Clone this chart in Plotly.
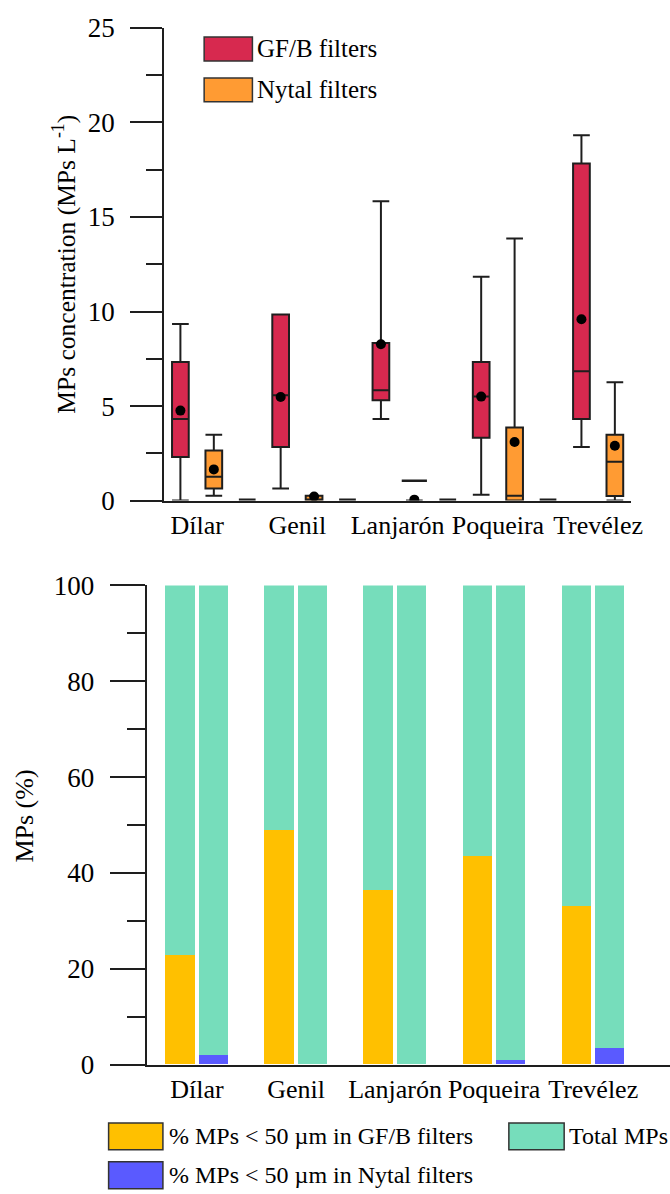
import plotly.graph_objects as go

# ---------------- data ----------------
categories = ["Dílar", "Genil", "Lanjarón", "Poqueira", "Trevélez"]

# Top panel: box statistics, MPs concentration (MPs L-1)
gfb_lower = [0.0, 0.64, 4.32, 0.31, 2.83]
gfb_q1 = [2.31, 2.83, 5.31, 3.32, 4.32]
gfb_median = [4.32, 5.57, 5.84, 5.50, 6.84]
gfb_q3 = [7.33, 9.85, 8.34, 7.33, 17.83]
gfb_upper = [9.34, 9.85, 15.84, 11.84, 19.32]
gfb_mean = [4.76, 5.48, 8.27, 5.50, 9.59]

nyt_lower = [0.25, 0.0, 0.0, 0.0, 0.0]
nyt_q1 = [0.64, 0.0, 0.0, 0.0, 0.24]
nyt_median = [1.26, 0.0, 0.0, 0.25, 2.05]
nyt_q3 = [2.65, 0.25, 0.0, 3.87, 3.48]
nyt_upper = [3.48, 0.25, 0.0, 13.87, 6.26]
nyt_mean = [1.65, 0.22, 0.05, 3.10, 2.90]
nyt_outlier = [None, None, 1.05, None, None]

empty_series = [0.0, 0.0, 0.0, 0.0]  # zero-valued boxes drawn between groups

# Bottom panel: percentages
gfb_small_pct = [22.7, 48.9, 36.4, 43.5, 33.1]
nyt_small_pct = [1.85, 0.0, 0.0, 0.8, 3.3]
total_pct = [100, 100, 100, 100, 100]

# ---------------- styling ----------------
S = 0.977          # rendering scale of the page
OFF_Y = 15         # vertical offset of the page in the picture
FW, FH = 686, 1207
FONT = "Liberation Serif"
AX = "#1e1e1e"
RED = "#D7294F"
ORANGE = "#FF9B33"
YELLOW = "#FFC000"
TEAL = "#76DDBB"
BLUE = "#5A5AFF"

def px(x):
    """picture x (px) -> paper fraction"""
    return (x / S) / FW

def py(y):
    """picture y (px) -> paper fraction"""
    return 1 - ((y - OFF_Y) / S) / FH

def ln(v):
    return v / S

idx = list(range(len(categories)))
box_off = 1 / 6
gf_x = [i - box_off for i in idx]
ny_x = [i + box_off for i in idx]
empty_x = [i + 0.5 for i in range(len(empty_series))]

bar_off = 0.1675
bar_w = 0.294
gfb_bar_x = [i - bar_off for i in idx]
nyt_bar_x = [i + bar_off for i in idx]

fig = go.Figure()

# ---- top: boxes ----
box_common = dict(whiskerwidth=1, boxpoints=False,
                  width=1 / 6, showlegend=False, hoverinfo="skip",
                  xaxis="x", yaxis="y")
fig.add_trace(go.Box(x=gf_x, q1=gfb_q1, median=gfb_median, q3=gfb_q3,
                     lowerfence=gfb_lower, upperfence=gfb_upper,
                     line=dict(color=AX, width=2),
                     fillcolor=RED, name="GF/B filters", **box_common))
fig.add_trace(go.Box(x=ny_x, q1=nyt_q1, median=nyt_median, q3=nyt_q3,
                     lowerfence=nyt_lower, upperfence=nyt_upper,
                     line=dict(color=AX, width=2),
                     fillcolor=ORANGE, name="Nytal filters", **box_common))
fig.add_trace(go.Box(x=empty_x, q1=empty_series, median=empty_series, q3=empty_series,
                     lowerfence=empty_series, upperfence=empty_series,
                     line=dict(color=AX, width=4),
                     fillcolor=AX, name="empty", **box_common))

# outlier dash
ox = [ny_x[i] for i, v in enumerate(nyt_outlier) if v is not None]
oy = [v for v in nyt_outlier if v is not None]
fig.add_trace(go.Scatter(x=ox, y=oy, mode="markers", xaxis="x", yaxis="y",
                         marker=dict(symbol="line-ew", size=18,
                                     line=dict(color=AX, width=2.5)),
                         showlegend=False, hoverinfo="skip"))
# means
fig.add_trace(go.Scatter(x=gf_x + ny_x, y=gfb_mean + nyt_mean, mode="markers",
                         xaxis="x", yaxis="y",
                         marker=dict(color="black", size=10),
                         showlegend=False, hoverinfo="skip"))

# ---- bottom: bars ----
bar_common = dict(xaxis="x2", yaxis="y2", width=bar_w, marker_line_width=0,
                  showlegend=False, hoverinfo="skip")
fig.add_trace(go.Bar(x=gfb_bar_x, y=total_pct, marker_color=TEAL, **bar_common))
fig.add_trace(go.Bar(x=nyt_bar_x, y=total_pct, marker_color=TEAL, **bar_common))
fig.add_trace(go.Bar(x=gfb_bar_x, y=gfb_small_pct, marker_color=YELLOW, **bar_common))
fig.add_trace(go.Bar(x=nyt_bar_x, y=nyt_small_pct, marker_color=BLUE, **bar_common))

tickfont_y = dict(family=FONT, size=27, color="black")
tickfont_x = dict(family=FONT, size=26, color="black")

# top axes (picture coordinates)
top_x0, top_x1 = 163, 627
top_y0, top_y1 = 28, 501.5
top_center0 = 196
top_step = 99.7
fig.update_layout(
    xaxis=dict(domain=[px(top_x0), px(top_x1)],
               range=[-(top_center0 - top_x0) / top_step, (top_x1 - top_center0) / top_step],
               tickmode="array", tickvals=idx, ticktext=categories,
               showline=True, linecolor=AX, linewidth=2, ticks="",
               showgrid=False, zeroline=False, tickfont=tickfont_x, anchor="y"),
    yaxis=dict(domain=[py(top_y1), py(top_y0)], range=[0, 25],
               tickmode="linear", tick0=0, dtick=5,
               showline=True, linecolor=AX, linewidth=2,
               ticks="outside", ticklen=ln(31), tickwidth=2, tickcolor=AX,
               ticklabelstandoff=10,
               minor=dict(dtick=2.5, tick0=0, ticks="outside", ticklen=ln(16),
                          tickwidth=2, tickcolor=AX, showgrid=False),
               showgrid=False, zeroline=False, tickfont=tickfont_y, anchor="x"),
)

# bottom axes (picture coordinates)
bot_x0, bot_x1 = 146.6, 670
bot_y0, bot_y1 = 586.5, 1066.5
bot_center0 = 195.85
bot_step = 98.5
fig.update_layout(
    xaxis2=dict(domain=[px(bot_x0), min(1.0, px(bot_x1))],
                range=[-(bot_center0 - bot_x0) / bot_step, (bot_x1 - bot_center0) / bot_step],
                tickmode="array", tickvals=idx, ticktext=categories,
                showline=True, linecolor=AX, linewidth=2, ticks="",
                showgrid=False, zeroline=False, tickfont=tickfont_x, anchor="y2"),
    yaxis2=dict(domain=[py(bot_y1), py(bot_y0)], range=[0, 100],
                tickmode="linear", tick0=0, dtick=20,
                showline=True, linecolor=AX, linewidth=2,
                ticks="outside", ticklen=ln(35), tickwidth=2, tickcolor=AX,
                ticklabelstandoff=10,
                minor=dict(dtick=10, tick0=0, ticks="outside", ticklen=ln(18),
                           tickwidth=2, tickcolor=AX, showgrid=False),
                showgrid=False, zeroline=False, tickfont=tickfont_y, anchor="x2"),
)

# ---- axis titles ----
annotations = [
    dict(text="MPs concentration (MPs L<sup>-1</sup>)", x=px(64), y=py((top_y0 + top_y1) / 2),
         xref="paper", yref="paper", textangle=-90, showarrow=False,
         xanchor="center", yanchor="middle", font=dict(family=FONT, size=25.5, color="black")),
    dict(text="MPs (%)", x=px(24), y=py(818),
         xref="paper", yref="paper", textangle=-90, showarrow=False,
         xanchor="center", yanchor="middle", font=dict(family=FONT, size=26, color="black")),
]

# ---- legends (drawn manually for large swatches) ----
shapes = []
def legend_item(x0, y0, x1, y1, color, label, tx, size):
    shapes.append(dict(type="rect", xref="paper", yref="paper",
                       x0=px(x0), x1=px(x1), y0=py(y1), y1=py(y0),
                       fillcolor=color, line=dict(color="#333333", width=1.5)))
    annotations.append(dict(text=label, x=px(tx), y=py((y0 + y1) / 2),
                            xref="paper", yref="paper", showarrow=False,
                            xanchor="left", yanchor="middle",
                            font=dict(family=FONT, size=size, color="black")))

legend_item(203, 37, 251, 61, RED, "GF/B filters", 254, 25)
legend_item(203, 78, 251, 102, ORANGE, "Nytal filters", 254, 25)
legend_item(108, 1125, 162, 1152, YELLOW, "% MPs &lt; 50 µm in GF/B filters", 166, 24)
legend_item(108, 1164, 162, 1191, BLUE, "% MPs &lt; 50 µm in Nytal filters", 166, 24)
legend_item(506, 1125, 561, 1152, TEAL, "Total MPs", 564, 24)

fig.update_layout(
    width=FW, height=FH, margin=dict(l=0, r=0, t=0, b=0),
    paper_bgcolor="white", plot_bgcolor="white",
    barmode="overlay", bargap=0, showlegend=False,
    annotations=annotations, shapes=shapes,
    font=dict(family=FONT, color="black"),
)

pin_js = ("document.documentElement.style.margin='0';document.body.style.margin='0';"
          "document.body.style.padding='0';document.body.style.overflow='hidden';"
          "document.body.style.background='white';"
          "var gd=document.getElementById('{plot_id}');"
          "gd.style.position='absolute';gd.style.left='0px';gd.style.top='0px';")

fig.write_html("out.html", post_script=pin_js, config={"displayModeBar": False})
